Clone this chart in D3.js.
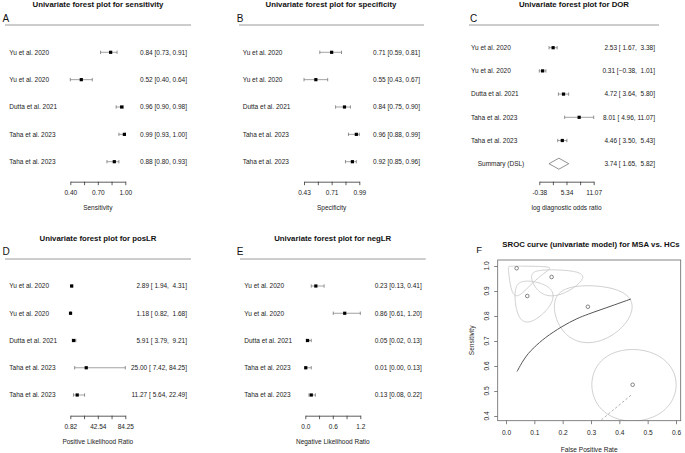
<!DOCTYPE html>
<html><head><meta charset="utf-8">
<script src="https://cdn.jsdelivr.net/npm/d3@7"></script>
<style>
body{margin:0;background:#fff;}
svg{display:block;font-family:"Liberation Sans",Arial,sans-serif;}
text{white-space:pre;}
</style></head>
<body><svg id="c" width="685" height="453"></svg>
<script>
// ---------------- DATA ----------------
const studies = ["Yu et al. 2020","Yu et al. 2020","Dutta et al. 2021","Taha et al. 2023","Taha et al. 2023"];

const sensEst = [0.84,0.52,0.96,0.99,0.88];
const sensLo  = [0.73,0.40,0.90,0.93,0.80];
const sensHi  = [0.91,0.64,0.98,1.00,0.93];
const sensTicks = [0.40,0.55,0.70,0.85,1.00];

const specEst = [0.71,0.55,0.84,0.96,0.92];
const specLo  = [0.59,0.43,0.75,0.88,0.85];
const specHi  = [0.81,0.67,0.90,0.99,0.96];
const specTicks = [0.43,0.57,0.71,0.85,0.99];

const dorEst = [2.53,0.31,4.72,8.01,4.46];
const dorLo  = [1.67,-0.38,3.64,4.96,3.50];
const dorHi  = [3.38,1.01,5.80,11.07,5.43];
const dorSummary = {label:"Summary (DSL)", est:3.74, lo:1.65, hi:5.82};
const dorTicks = [-0.38,2.48,5.34,8.21,11.07];

const posEst = [2.89,1.18,5.91,25.00,11.27];
const posLo  = [1.94,0.82,3.79,7.42,5.64];
const posHi  = [4.31,1.68,9.21,84.25,22.49];
const posTicks = [0.82,21.68,42.54,63.39,84.25];

const negEst = [0.23,0.86,0.05,0.01,0.13];
const negLo  = [0.13,0.61,0.02,0.00,0.08];
const negHi  = [0.41,1.20,0.13,0.13,0.22];
const negTicks = [0.0,0.3,0.6,0.9,1.2];

// SROC panel: study points (FPR, sensitivity) and logit-space half-axes of confidence regions
const rocFpr  = [0.0376,0.075,0.161,0.289,0.447];
const rocSens = [0.991,0.880,0.956,0.837,0.525];
const ellA = [1.54,0.90,0.66,0.68,0.62];
const ellB = [2.70,0.75,1.08,0.82,0.59];
const srocFpr  = [0.039,0.060,0.079,0.100,0.139,0.197,0.250,0.292,0.374,0.441];
const srocSens = [0.578,0.620,0.650,0.675,0.713,0.757,0.789,0.808,0.841,0.868];
const dashFpr  = [0.441,0.335];
const dashSens = [0.483,0.383];
const rocXTicks = [0,0.1,0.2,0.3,0.4,0.5,0.6];
const rocYTicks = [0.4,0.5,0.6,0.7,0.8,0.9,1.0];

// ---------------- DRAW ----------------
const svg = d3.select("#c");
svg.append("rect").attr("width",685).attr("height",453).attr("fill","#fff");
const f2 = d3.format(".2f");
const pad = (s,n)=> s.padStart(n," ");

function forest(cfg){
  const g = svg.append("g");
  g.append("text").attr("x",cfg.cx).attr("y",cfg.titleY).attr("text-anchor","middle")
    .attr("font-weight","bold").attr("font-size",7.8).attr("fill","#111").text(cfg.title);
  g.append("text").attr("x",cfg.letterX).attr("y",cfg.letterY).attr("font-size",10).attr("fill","#111").text(cfg.letter);
  g.append("line").attr("x1",cfg.lineX[0]).attr("x2",cfg.lineX[1]).attr("y1",cfg.lineY).attr("y2",cfg.lineY)
    .attr("stroke","#9a9a9a").attr("stroke-width",1);
  const n = cfg.est.length + (cfg.summary?1:0);
  const y = d3.scaleLinear().domain([0,n-1]).range(cfg.yr);
  const x = d3.scaleLinear().domain([cfg.ticks[0],cfg.ticks[cfg.ticks.length-1]]).range(cfg.xr);
  const fmt = (e,l,h)=> cfg.padded ? `${f2(e)} [${pad(f2(l),5)}, ${pad(f2(h),5)}]` : `${f2(e)} [${f2(l)}, ${f2(h)}]`;
  cfg.est.forEach((e,i)=>{
    const yy = y(i);
    g.append("text").attr("x",cfg.labelX).attr("y",yy).attr("dy","0.35em").attr("font-size",6.5).attr("fill","#222").text(studies[i]);
    g.append("line").attr("x1",x(cfg.lo[i])).attr("x2",x(cfg.hi[i])).attr("y1",yy).attr("y2",yy).attr("stroke","#8a8a8a").attr("stroke-width",0.8);
    [cfg.lo[i],cfg.hi[i]].forEach(v=>g.append("line").attr("x1",x(v)).attr("x2",x(v)).attr("y1",yy-1.7).attr("y2",yy+1.7).attr("stroke","#777").attr("stroke-width",0.8));
    g.append("rect").attr("x",x(e)-1.6).attr("y",yy-1.6).attr("width",3.2).attr("height",3.2).attr("fill","#000");
    g.append("text").attr("x",cfg.valX).attr("y",yy).attr("dy","0.35em").attr("text-anchor","end").attr("font-size",6.5).attr("fill","#222").text(fmt(e,cfg.lo[i],cfg.hi[i]));
  });
  if(cfg.summary){
    const s = cfg.summary, yy = y(n-1);
    g.append("text").attr("x",cfg.sumX).attr("y",yy).attr("dy","0.35em").attr("font-size",6.5).attr("fill","#222").text(s.label);
    g.append("path").attr("d",`M${x(s.lo)},${yy}L${x(s.est)},${yy-5.5}L${x(s.hi)},${yy}L${x(s.est)},${yy+5.5}Z`)
      .attr("fill","#fff").attr("stroke","#777").attr("stroke-width",0.8);
    g.append("text").attr("x",cfg.valX).attr("y",yy).attr("dy","0.35em").attr("text-anchor","end").attr("font-size",6.5).attr("fill","#222").text(fmt(s.est,s.lo,s.hi));
  }
  const ax = g.append("g").attr("transform",`translate(0,${cfg.axisY})`)
    .call(d3.axisBottom(x).tickValues(cfg.ticks).tickSize(3.5).tickSizeOuter(0).tickPadding(5)
      .tickFormat((d,i)=> i%2===0 ? cfg.tickLabels[i/2] : ""));
  ax.select(".domain").attr("stroke","#333").attr("stroke-width",0.8);
  ax.selectAll(".tick line").attr("stroke","#333").attr("stroke-width",0.8);
  ax.selectAll("text").attr("font-size",6.5).attr("fill","#222").attr("font-family","Liberation Sans, Arial, sans-serif");
  g.append("text").attr("x",(cfg.xr[0]+cfg.xr[1])/2).attr("y",cfg.axisY+28.5).attr("text-anchor","middle")
    .attr("font-size",6.5).attr("fill","#222").text(cfg.axisTitle);
}

forest({title:"Univariate forest plot for sensitivity",letter:"A",cx:98,titleY:7.3,letterX:2.5,letterY:21.7,
  lineX:[5,191],lineY:25,yr:[52.3,161.7],xr:[70.3,125.3],labelX:9.3,valX:187,axisY:181.7,
  est:sensEst,lo:sensLo,hi:sensHi,ticks:sensTicks,tickLabels:["0.40","0.70","1.00"],axisTitle:"Sensitivity"});
forest({title:"Univariate forest plot for specificity",letter:"B",cx:331,titleY:7.3,letterX:236.7,letterY:21.7,
  lineX:[239,424],lineY:25,yr:[52.3,161.7],xr:[304,359.3],labelX:242.7,valX:420,axisY:181.7,
  est:specEst,lo:specLo,hi:specHi,ticks:specTicks,tickLabels:["0.43","0.71","0.99"],axisTitle:"Specificity"});
forest({title:"Univariate forest plot for DOR",letter:"C",cx:574,titleY:7.3,letterX:470,letterY:21.7,
  lineX:[469,659],lineY:25,yr:[47.7,163.7],xr:[539.3,593.7],labelX:471,valX:655,axisY:181.7,padded:true,
  est:dorEst,lo:dorLo,hi:dorHi,summary:dorSummary,sumX:477.7,ticks:dorTicks,tickLabels:["-0.38","5.34","11.07"],axisTitle:"log diagnostic odds ratio"});
forest({title:"Univariate forest plot for posLR",letter:"D",cx:98,titleY:240.8,letterX:2.5,letterY:254.5,
  lineX:[5,191],lineY:259,yr:[286,395],xr:[70.3,125.3],labelX:9.3,valX:187,axisY:415.7,padded:true,
  est:posEst,lo:posLo,hi:posHi,ticks:posTicks,tickLabels:["0.82","42.54","84.25"],axisTitle:"Positive Likelihood Ratio"});
forest({title:"Univariate forest plot for negLR",letter:"E",cx:332.7,titleY:240.8,letterX:236.7,letterY:254.5,
  lineX:[240,425.7],lineY:259,yr:[286,395],xr:[305.3,360.3],labelX:244.3,valX:421.7,axisY:415.7,
  est:negEst,lo:negLo,hi:negHi,ticks:negTicks,tickLabels:["0.0","0.6","1.2"],axisTitle:"Negative Likelihood Ratio"});

// ---------------- SROC panel ----------------
(function(){
  const g = svg.append("g");
  const box = {x0:497.7,x1:680.7,y0:260,y1:420.7};
  const x = d3.scaleLinear().domain([0,0.6]).range([506,676]);
  const y = d3.scaleLinear().domain([0.4,1.0]).range([416,266]);
  g.append("text").attr("x",591).attr("y",247.3).attr("text-anchor","middle").attr("font-weight","bold")
    .attr("font-size",7.8).attr("fill","#111").text("SROC curve (univariate model) for MSA vs. HCs");
  g.append("text").attr("x",476.3).attr("y",253.3).attr("font-size",9.5).attr("fill","#111").text("F");
  svg.append("clipPath").attr("id","clipF").append("rect")
    .attr("x",box.x0).attr("y",box.y0).attr("width",box.x1-box.x0).attr("height",box.y1-box.y0);
  const plot = g.append("g").attr("clip-path","url(#clipF)");
  const logit = p=>Math.log(p/(1-p)), expit = v=>1/(1+Math.exp(-v));
  const line = d3.line().x(d=>x(d[0])).y(d=>y(d[1]));
  rocFpr.forEach((fp,i)=>{
    const cx = logit(fp), cy = logit(rocSens[i]);
    const pts = d3.range(0,361,3).map(a=>{const t=a*Math.PI/180; return [expit(cx+ellA[i]*Math.cos(t)), expit(cy+ellB[i]*Math.sin(t))];});
    plot.append("path").attr("d",line.curve(d3.curveLinear)(pts)).attr("fill","none").attr("stroke","#c9c9c9").attr("stroke-width",0.9);
  });
  plot.append("path").attr("d",d3.line().x(d=>x(d[0])).y(d=>y(d[1])).curve(d3.curveCatmullRom)(srocFpr.map((v,i)=>[v,srocSens[i]])))
    .attr("fill","none").attr("stroke","#555").attr("stroke-width",1);
  plot.append("path").attr("d",line.curve(d3.curveLinear)(dashFpr.map((v,i)=>[v,dashSens[i]])))
    .attr("fill","none").attr("stroke","#999").attr("stroke-width",0.8).attr("stroke-dasharray","2.5,2");
  plot.selectAll("circle.pt").data(rocFpr).join("circle").attr("class","pt")
    .attr("cx",d=>x(d)).attr("cy",(d,i)=>y(rocSens[i])).attr("r",1.8).attr("fill","none").attr("stroke","#555").attr("stroke-width",0.7);
  g.append("rect").attr("x",box.x0).attr("y",box.y0).attr("width",box.x1-box.x0).attr("height",box.y1-box.y0)
    .attr("fill","none").attr("stroke","#666").attr("stroke-width",0.8);
  const xa = g.append("g").attr("transform",`translate(0,${box.y1})`)
    .call(d3.axisBottom(x).tickValues(rocXTicks).tickSize(3.5).tickSizeOuter(0).tickPadding(6).tickFormat(d3.format(".1f")));
  xa.select(".domain").remove();
  xa.selectAll(".tick line").attr("stroke","#666").attr("stroke-width",0.8);
  xa.selectAll("text").attr("font-size",6.6).attr("fill","#222").attr("font-family","Liberation Sans, Arial, sans-serif");
  const ya = g.append("g").attr("transform",`translate(${box.x0},0)`)
    .call(d3.axisLeft(y).tickValues(rocYTicks).tickSize(3.5).tickSizeOuter(0).tickFormat(""));
  ya.select(".domain").remove();
  ya.selectAll(".tick line").attr("stroke","#666").attr("stroke-width",0.8);
  rocYTicks.forEach(v=>{
    g.append("text").attr("transform",`translate(487,${y(v)}) rotate(-90)`).attr("dy","0.35em")
      .attr("text-anchor","middle").attr("font-size",6.6).attr("fill","#222").text(d3.format(".1f")(v));
  });
  g.append("text").attr("x",(box.x0+box.x1)/2).attr("y",452).attr("text-anchor","middle").attr("font-size",6.6).attr("fill","#222").text("False Positive Rate");
  g.append("text").attr("transform",`translate(472,${(box.y0+box.y1)/2}) rotate(-90)`).attr("dy","0.35em")
    .attr("text-anchor","middle").attr("font-size",6.6).attr("fill","#222").text("Sensitivity");
})();
</script></body></html>
